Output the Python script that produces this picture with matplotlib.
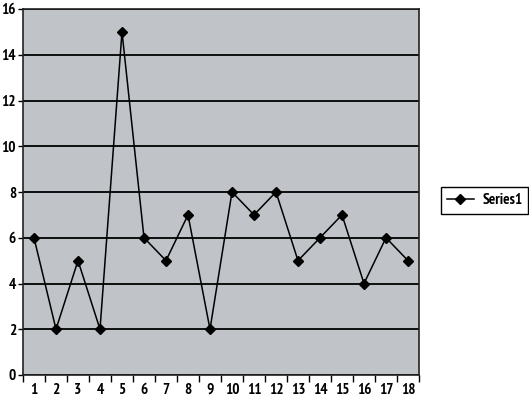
import matplotlib.pyplot as plt
from matplotlib import font_manager
from matplotlib.ticker import FixedLocator

# categories and values of the single series
categories = list(range(1, 19))
series1 = [6, 2, 5, 2, 15, 6, 5, 7, 2, 8, 7, 8, 5, 6, 7, 4, 6, 5]
y_ticks = [0, 2, 4, 6, 8, 10, 12, 14, 16]

# reference uses a narrow font; take one if installed, otherwise Liberation Sans
narrow = [f for f in font_manager.fontManager.ttflist
          if ('Narrow' in f.name or f.stretch in ('condensed', 'semi-condensed'))
          and f.style == 'normal']
narrow.sort(key=lambda f: (0 if 'Narrow' in f.name else 1, abs(f.weight - 600) if isinstance(f.weight, int) else 0))
if narrow:
    fp = font_manager.FontProperties(fname=narrow[0].fname, size=11)
else:
    fp = font_manager.FontProperties(family='Liberation Sans', size=9)

fig = plt.figure(figsize=(5.29, 4.0), dpi=100)
ax = fig.add_axes([23 / 529, 25 / 400, 396 / 529, 366 / 400])
ax.set_facecolor('#c0c4c8')

ax.plot(categories, series1, color='black', linewidth=1.1, marker='D',
        markersize=5, markerfacecolor='black', markeredgecolor='black',
        label='Series1', zorder=3)

ax.set_xlim(0.5, 18.5)
ax.set_ylim(0, 16)
ax.set_yticks(y_ticks)
ax.set_xticks(categories)
ax.xaxis.set_minor_locator(FixedLocator([c - 0.5 for c in categories] + [18.5]))
ax.yaxis.grid(True, color='black', linewidth=1.3)
ax.set_axisbelow(True)

ax.tick_params(axis='x', which='major', length=0, pad=5.5)
ax.tick_params(axis='x', which='minor', length=5, width=1, direction='out')
ax.tick_params(axis='y', length=3.5, width=1, pad=1.5)
for lbl in ax.get_xticklabels() + ax.get_yticklabels():
    lbl.set_fontproperties(fp)

for s in ax.spines.values():
    s.set_color('#222222')
    s.set_linewidth(1.2)

fig.legend(loc='center left', bbox_to_anchor=(441 / 529, 0.499),
           frameon=True, fancybox=False, edgecolor='black', framealpha=1,
           handlelength=1.75, handletextpad=0.55, borderpad=0.4,
           prop=fp, borderaxespad=0)

fig.savefig('out.png', dpi=100)
